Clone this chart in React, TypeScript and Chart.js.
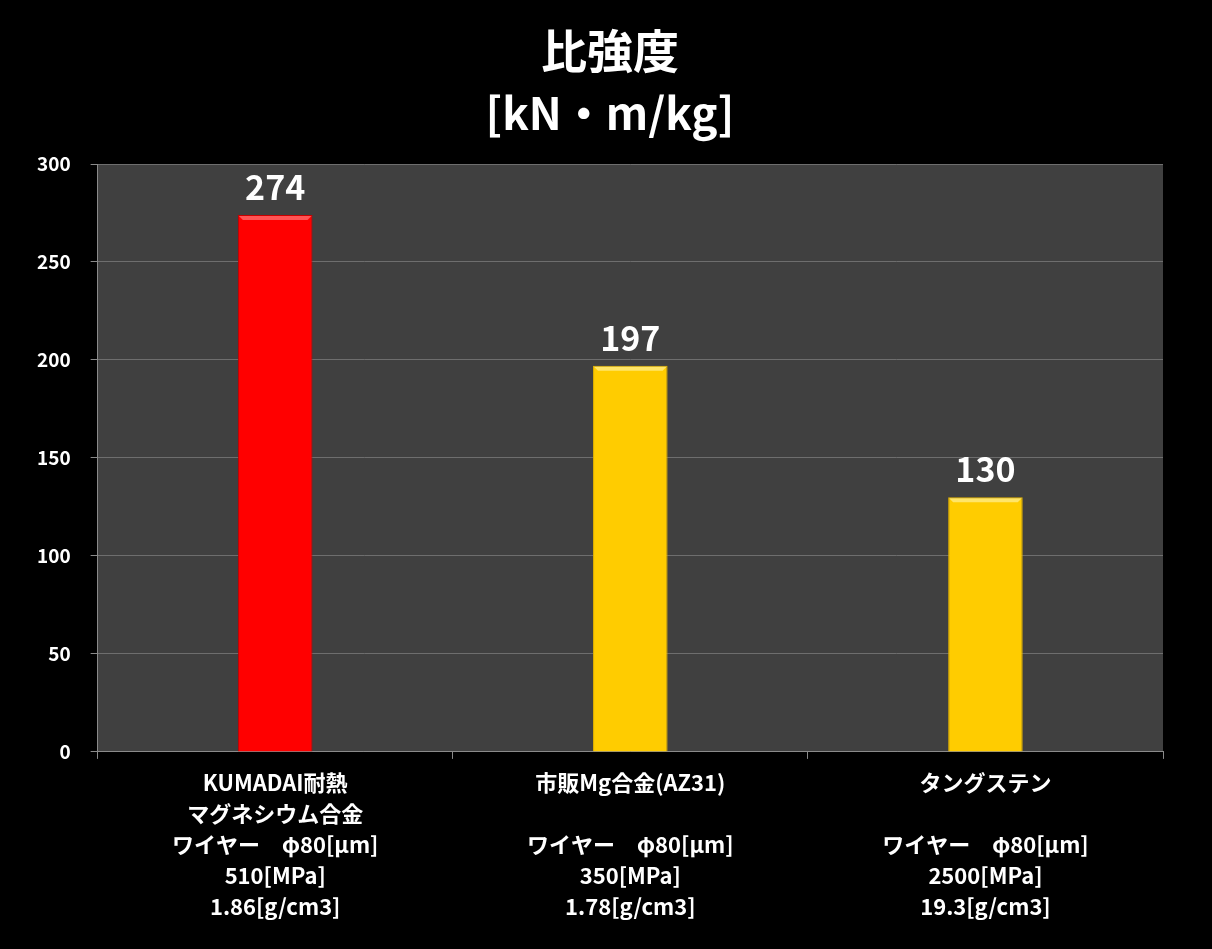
import React, { useEffect, useRef } from "react";
import { Chart, registerables } from "chart.js";

Chart.register(...registerables);

const titleLines = ["比強度", "[kN・m/kg]"];
const categories: string[][] = [
  ["KUMADAI耐熱", "マグネシウム合金", "ワイヤー　φ80[μm]", "510[MPa]", "1.86[g/cm3]"],
  ["市販Mg合金(AZ31)", "", "ワイヤー　φ80[μm]", "350[MPa]", "1.78[g/cm3]"],
  ["タングステン", "", "ワイヤー　φ80[μm]", "2500[MPa]", "19.3[g/cm3]"],
];
const values = [274, 197, 130];
const barColors = ["#ff0000", "#ffcc00", "#ffcc00"];
const barEdgeColors = ["#c80000", "#e0b000", "#e0b000"];
const barHighlightColors = ["rgba(255,120,120,0.7)", "rgba(255,240,150,0.7)", "rgba(255,240,150,0.7)"];

const FONT = "'Noto Sans CJK JP', 'Open Sans', sans-serif";

export default function App() {
  const ref = useRef<HTMLCanvasElement | null>(null);

  useEffect(() => {
    document.body.style.margin = "0";
    document.body.style.background = "#000";
    const canvas = ref.current!;
    const bgPlugin = {
      id: "bg",
      beforeDraw(chart: any) {
        const { ctx, chartArea } = chart;
        ctx.save();
        ctx.fillStyle = "#000";
        ctx.fillRect(0, 0, chart.width, chart.height);
        ctx.fillStyle = "#404040";
        ctx.fillRect(chartArea.left, chartArea.top, chartArea.right - chartArea.left, chartArea.bottom - chartArea.top);
        ctx.fillStyle = "#ffffff";
        ctx.textAlign = "center";
        ctx.textBaseline = "middle";
        ctx.font = `bold 46px ${FONT}`;
        ctx.fillText(titleLines[0], 610, 51);
        ctx.font = `bold 44px ${FONT}`;
        ctx.fillText(titleLines[1], 610, 113);
        ctx.restore();
      },
    };
    const labelPlugin = {
      id: "valueLabels",
      afterDatasetsDraw(chart: any) {
        const { ctx } = chart;
        const meta = chart.getDatasetMeta(0);
        ctx.save();
        meta.data.forEach((bar: any, i: number) => {
          const left = bar.x - bar.width / 2;
          const w = bar.width;
          // subtle bevel: top highlight strip
          ctx.fillStyle = barHighlightColors[i];
          ctx.beginPath();
          ctx.moveTo(left + 1, bar.y + 1);
          ctx.lineTo(left + w - 1, bar.y + 1);
          ctx.lineTo(left + w - 5, bar.y + 5);
          ctx.lineTo(left + 5, bar.y + 5);
          ctx.closePath();
          ctx.fill();
        });
        ctx.fillStyle = "#ffffff";
        ctx.font = `bold 34px ${FONT}`;
        ctx.textAlign = "center";
        ctx.textBaseline = "middle";
        meta.data.forEach((bar: any, i: number) => {
          ctx.fillText(String(values[i]), bar.x, bar.y - 28);
        });
        ctx.restore();
      },
    };
    const chart = new Chart(canvas, {
      type: "bar",
      data: {
        labels: categories,
        datasets: [
          {
            data: values,
            backgroundColor: barColors,
            borderColor: barEdgeColors,
            borderWidth: 1,
            categoryPercentage: 1,
            barPercentage: 0.21,
          },
        ],
      },
      options: {
        responsive: false,
        animation: false,
        layout: { padding: { top: 164, left: 17, right: 49, bottom: 19 } },
        plugins: {
          legend: { display: false },
          tooltip: { enabled: false },
          title: { display: false },
        },
        scales: {
          y: {
            min: 0,
            max: 300,
            ticks: {
              stepSize: 50,
              color: "#ffffff",
              font: { family: FONT, size: 19, weight: "bold" },
              padding: 20,
            },
            grid: { color: "#6e6e6e", tickLength: 7, tickColor: "#8a8a8a" },
            border: { color: "#8a8a8a" },
          },
          x: {
            ticks: {
              color: "#ffffff",
              font: { family: FONT, size: 22, weight: "bold", lineHeight: 1.41 },
              padding: 8,
              maxRotation: 0,
              autoSkip: false,
            },
            grid: { offset: true, drawOnChartArea: false, tickLength: 7, color: "#8a8a8a" },
            border: { color: "#8a8a8a" },
          },
        },
      },
      plugins: [bgPlugin, labelPlugin],
    });
    return () => chart.destroy();
  }, []);

  return <canvas ref={ref} width={1212} height={949} style={{ display: "block" }} />;
}
